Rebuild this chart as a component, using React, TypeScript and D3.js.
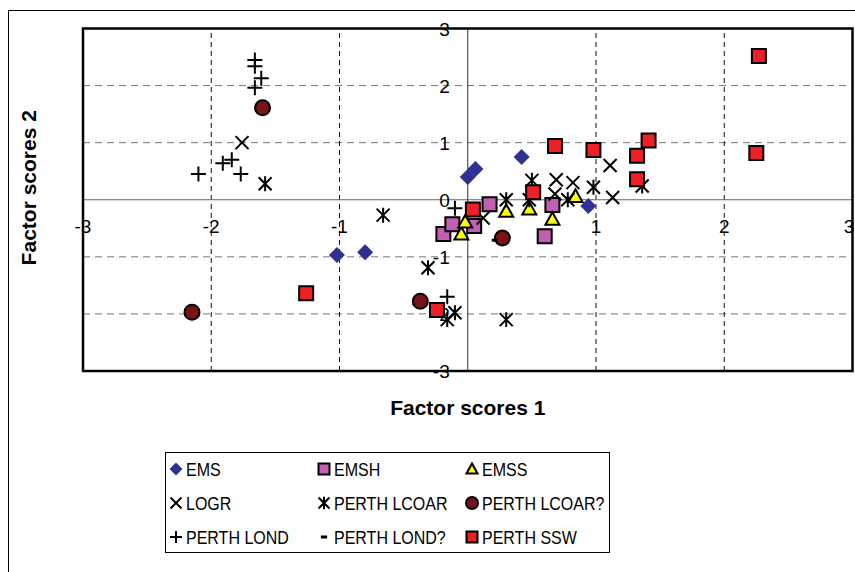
import React, { useRef, useEffect } from "react";
import * as d3 from "d3";

// factor scores, [x, y]
const ems = [
  [-1.02, -0.97], [-0.8, -0.92], [0.0, 0.4], [0.06, 0.54], [0.42, 0.75], [0.94, -0.11],
];
const emsh = [
  [-0.19, -0.6], [-0.12, -0.43], [0.05, -0.46], [0.17, -0.08], [0.66, -0.09], [0.6, -0.64],
];
const emss = [
  [-0.05, -0.6], [-0.02, -0.39], [0.3, -0.2], [0.48, -0.16], [0.66, -0.34], [0.84, 0.06],
];
const logr = [
  [-1.76, 1.0], [0.12, -0.32], [0.69, 0.35], [0.82, 0.3], [1.11, 0.6], [1.13, 0.04], [0.68, 0.1],
];
const perthLcoar = [
  [-1.58, 0.28], [-0.66, -0.27], [-0.31, -1.19], [-0.16, -2.1], [-0.1, -1.98], [0.3, -2.1],
  [0.3, 0.0], [0.5, 0.34], [0.48, -0.0], [0.78, 0.0], [0.98, 0.22], [1.36, 0.24],
];
const perthLcoarQ = [
  [-1.6, 1.61], [-2.15, -1.97], [-0.37, -1.78], [0.27, -0.67],
];
const perthLond = [
  [-1.66, 2.45], [-1.66, 2.34], [-1.61, 2.13], [-1.66, 1.96],
  [-2.1, 0.45], [-1.91, 0.64], [-1.84, 0.7], [-1.77, 0.45],
  [-0.1, -0.15], [-0.16, -1.7],
];
const perthLondQ = [
  [-0.26, -1.98], [0.21, -0.71],
];
const perthSsw = [
  [2.27, 2.52], [2.25, 0.82], [1.41, 1.04], [1.32, 0.77], [1.32, 0.36], [0.68, 0.94],
  [0.98, 0.87], [0.51, 0.13], [-1.26, -1.64], [-0.24, -1.93], [0.04, -0.17],
];

const ticks = [-3, -2, -1, 0, 1, 2, 3];
const gridTicks = [-2, -1, 1, 2];

const series = [
  { name: "EMS", data: ems, shape: "diamond", fill: "#2e3192" },
  { name: "EMSH", data: emsh, shape: "square", fill: "#c25fb4" },
  { name: "EMSS", data: emss, shape: "triangle", fill: "#ffff00" },
  { name: "LOGR", data: logr, shape: "x", fill: "none" },
  { name: "PERTH LCOAR", data: perthLcoar, shape: "star", fill: "none" },
  { name: "PERTH LCOAR?", data: perthLcoarQ, shape: "circle", fill: "#7a1315" },
  { name: "PERTH LOND", data: perthLond, shape: "plus", fill: "none" },
  { name: "PERTH LOND?", data: perthLondQ, shape: "dash", fill: "none" },
  { name: "PERTH SSW", data: perthSsw, shape: "square", fill: "#ee1f26" },
];

function markerPath(shape: string, s: number) {
  const h = s / 2;
  switch (shape) {
    case "diamond":
      return `M0,${-h}L${h},0L0,${h}L${-h},0Z`;
    case "square":
      return `M${-h},${-h}H${h}V${h}H${-h}Z`;
    case "triangle":
      return `M0,${-h}L${h},${h * 0.8}L${-h},${h * 0.8}Z`;
    case "x":
      return `M${-h},${-h}L${h},${h}M${h},${-h}L${-h},${h}`;
    case "star":
      return `M${-h},${-h}L${h},${h}M${h},${-h}L${-h},${h}M0,${-h * 1.15}V${h * 1.15}`;
    case "plus":
      return `M${-h},0H${h}M0,${-h}V${h}`;
    case "dash":
      return `M${-h * 0.45},0H${h * 0.45}`;
    default:
      return d3.symbol(d3.symbolCircle, (Math.PI * s * s) / 4)() as string;
  }
}

function drawMarker(g: any, shape: string, fill: string, s: number) {
  const p = g.append("path").attr("d", markerPath(shape, s));
  if (shape === "diamond") {
    p.attr("fill", fill).attr("stroke", "none");
  } else if (shape === "x" || shape === "star" || shape === "plus") {
    p.attr("fill", "none").attr("stroke", "#000").attr("stroke-width", 2);
  } else if (shape === "dash") {
    p.attr("fill", "none").attr("stroke", "#000").attr("stroke-width", 3);
  } else {
    p.attr("fill", fill).attr("stroke", "#000").attr("stroke-width", 2);
  }
}

const sizes: Record<string, number> = {
  diamond: 16, square: 14, triangle: 14, x: 13, star: 13, circle: 15, plus: 15, dash: 13,
};
const legendSizes: Record<string, number> = {
  diamond: 13, square: 11, triangle: 11, x: 11, star: 11, circle: 12, plus: 12, dash: 14,
};

const App = () => {
  const svgRef = useRef<SVGSVGElement>(null);

  useEffect(() => {
    const svg = d3.select(svgRef.current);
    svg.selectAll("*").remove();

    const x = d3.scaleLinear().domain([-3, 3]).range([83, 852.5]);
    const y = d3.scaleLinear().domain([-3, 3]).range([371, 28.5]);

    // outer chart border
    svg.append("rect").attr("x", 8.5).attr("y", 10.5).attr("width", 900).attr("height", 600)
      .attr("fill", "#fff").attr("stroke", "#000").attr("stroke-width", 1);

    // plot area
    svg.append("rect").attr("x", x(-3)).attr("y", y(3))
      .attr("width", x(3) - x(-3)).attr("height", y(-3) - y(3)).attr("fill", "#fff");

    // grid
    svg.append("g").selectAll("line").data(gridTicks).enter().append("line")
      .attr("x1", x(-3)).attr("x2", x(3)).attr("y1", (d) => y(d)).attr("y2", (d) => y(d))
      .attr("stroke", "#777").attr("stroke-width", 1).attr("stroke-dasharray", "7,5");
    svg.append("g").selectAll("line").data(gridTicks).enter().append("line")
      .attr("y1", y(-3)).attr("y2", y(3)).attr("x1", (d) => x(d)).attr("x2", (d) => x(d))
      .attr("stroke", "#111").attr("stroke-width", 1).attr("stroke-dasharray", "5,4");

    // zero axes
    svg.append("line").attr("x1", x(-3)).attr("x2", x(3)).attr("y1", y(0)).attr("y2", y(0))
      .attr("stroke", "#666").attr("stroke-width", 1);
    svg.append("line").attr("y1", y(-3)).attr("y2", y(3)).attr("x1", x(0)).attr("x2", x(0))
      .attr("stroke", "#333").attr("stroke-width", 1);

    const font = "Liberation Sans, Arial, sans-serif";

    // tick labels
    svg.append("g").selectAll("text").data(ticks.filter((d) => d !== 0)).enter().append("text")
      .attr("x", (d) => Math.min(x(d), 849)).attr("y", y(0) + 33)
      .attr("text-anchor", "middle").attr("font-family", font).attr("font-size", 19)
      .text((d) => String(d));
    svg.append("g").selectAll("text").data(ticks).enter().append("text")
      .attr("x", x(0) - 18).attr("y", (d) => y(d) + 7)
      .attr("text-anchor", "end").attr("font-family", font).attr("font-size", 19)
      .text((d) => String(d));

    // frame
    svg.append("rect").attr("x", x(-3)).attr("y", y(3))
      .attr("width", x(3) - x(-3)).attr("height", y(-3) - y(3))
      .attr("fill", "none").attr("stroke", "#000").attr("stroke-width", 2.5);

    // points
    series.forEach((s) => {
      const g = svg.append("g");
      s.data.forEach((d) => {
        const m = g.append("g").attr("transform", `translate(${x(d[0])},${y(d[1])})`);
        drawMarker(m, s.shape, s.fill, sizes[s.shape]);
      });
    });

    // axis titles
    svg.append("text").attr("x", x(0)).attr("y", 415).attr("text-anchor", "middle")
      .attr("font-family", font).attr("font-weight", "bold").attr("font-size", 21)
      .text("Factor scores 1");
    svg.append("text").attr("transform", `translate(36,${(y(3) + y(-3)) / 2 - 12}) rotate(-90)`)
      .attr("text-anchor", "middle")
      .attr("font-family", font).attr("font-weight", "bold").attr("font-size", 21)
      .text("Factor scores 2");

    // legend
    const lg = svg.append("g");
    lg.append("rect").attr("x", 165.5).attr("y", 452.5).attr("width", 444).attr("height", 100)
      .attr("fill", "#fff").attr("stroke", "#000").attr("stroke-width", 1);
    const colX = [176, 324, 472];
    const rowY = [469, 503, 537];
    series.forEach((s, i) => {
      const cx = colX[i % 3];
      const cy = rowY[Math.floor(i / 3)];
      const m = lg.append("g").attr("transform", `translate(${cx},${cy})`);
      drawMarker(m, s.shape, s.fill, legendSizes[s.shape]);
      lg.append("text")
        .attr("transform", `translate(${cx + 10},${cy + 6.5}) scale(0.89,1)`)
        .attr("font-family", font).attr("font-size", 18).text(s.name);
    });
  }, []);

  return (
    <svg
      ref={svgRef}
      width={855}
      height={572}
      style={{ position: "absolute", left: 0, top: 0, display: "block" }}
    ></svg>
  );
};

export default App;
